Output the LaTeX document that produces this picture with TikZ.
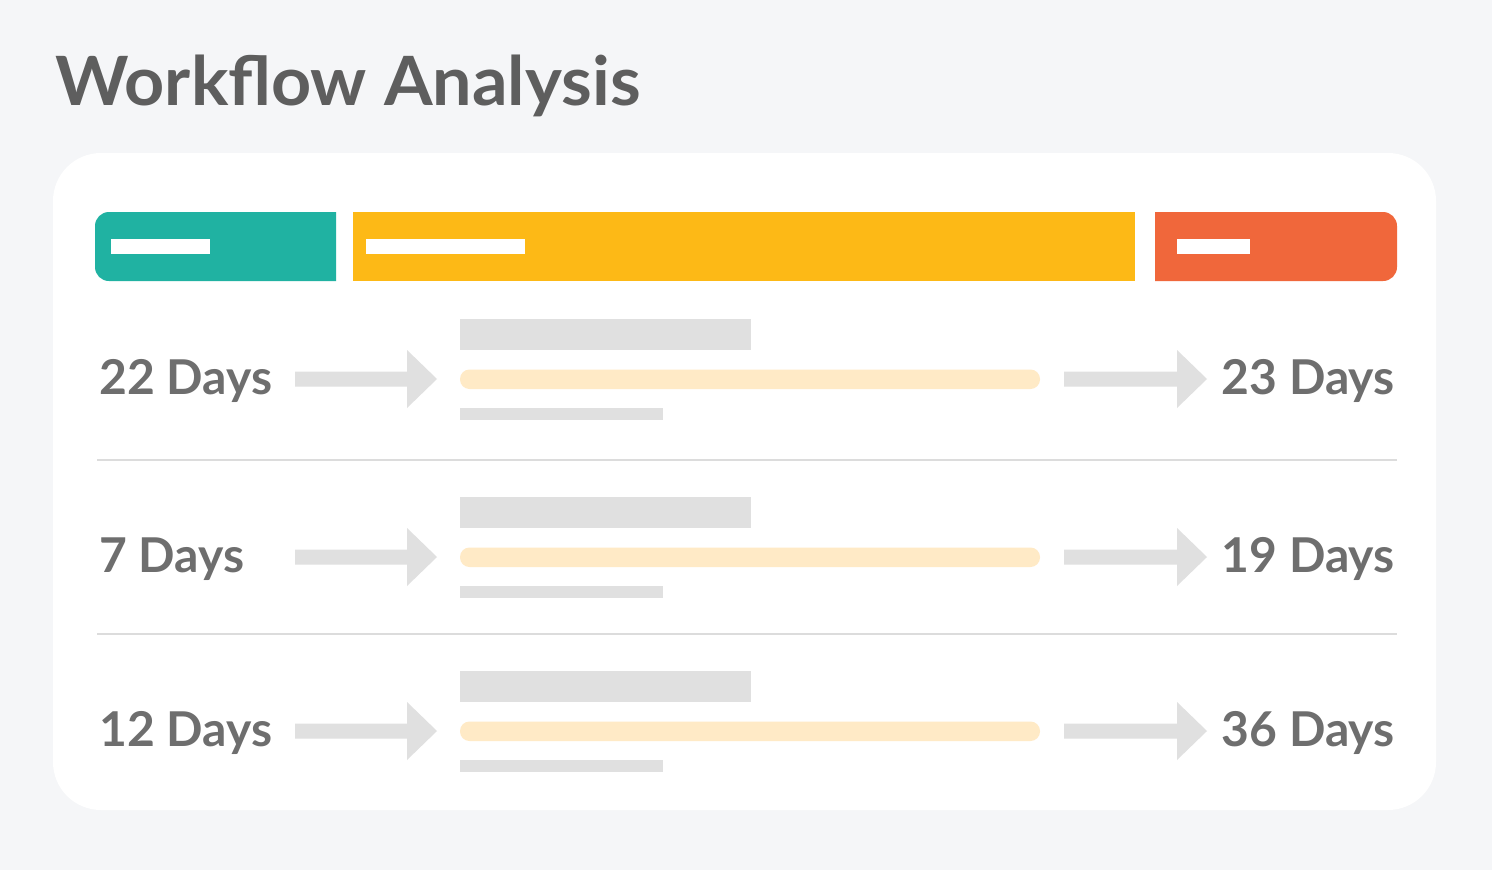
\documentclass[tikz,border=0pt]{standalone}
\usepackage{fontspec}
\setmainfont{Lato}
\newfontfamily\titlefont{Lato}[FakeStretch=1.03]
\definecolor{bgc}{HTML}{F5F6F8}
\definecolor{teal}{HTML}{20B2A2}
\definecolor{yel}{HTML}{FDB916}
\definecolor{ora}{HTML}{F0673B}
\definecolor{lyel}{HTML}{FFEAC6}
\definecolor{lgray}{HTML}{E0E0E0}
\definecolor{sep}{HTML}{DCDCDC}
\definecolor{titlec}{HTML}{5E5E5E}
\definecolor{txtc}{HTML}{6E6E6E}
\tikzset{
  daytext/.style={font=\fontsize{48}{52}\selectfont\bfseries, text=txtc, inner sep=0pt},
  graybar/.style={fill=lgray, draw=none},
  arrowshape/.style={fill=lgray, draw=none},
}
\begin{document}
\begin{tikzpicture}[x=1pt,y=-1pt]
\fill[bgc] (0,0) rectangle (1492,870);
\useasboundingbox (0,0) rectangle (1492,870);
\node[anchor=base west, inner sep=0pt, text=titlec, font=\titlefont\fontsize{68}{72}\selectfont\bfseries] (title) at (55,105) {Workflow Analysis};
% card
\fill[white, rounded corners=48pt] (53,153) rectangle (1436,810);
% header
\fill[teal] (336,212) [rounded corners=14pt] -- (95,212) -- (95,281) [sharp corners] -- (336,281) -- cycle;
\fill[white] (111,239) rectangle (210,254);
\fill[yel] (353,212) rectangle (1135,281);
\fill[white] (366,239) rectangle (525,254);
\fill[ora] (1155,212) [rounded corners=14pt] -- (1397,212) -- (1397,281) [sharp corners] -- (1155,281) -- cycle;
\fill[white] (1177,239) rectangle (1250,254);
% separators
\draw[sep, line width=2.5pt] (97,460) -- (1397,460);
\draw[sep, line width=2.5pt] (97,634) -- (1397,634);
% rows
\foreach \cy/\l/\r/\n in {379/22 Days/23 Days/a, 557/7 Days/19 Days/b, 731/12 Days/36 Days/c}{
  \node[daytext, anchor=base west] (left\n) at (99,\cy+15) {\l};
  \node[daytext, anchor=base east] (right\n) at (1395,\cy+15) {\r};
  \fill[arrowshape] (295,\cy-7.5) -- (407,\cy-7.5) -- (407,\cy-29) -- (437,\cy) -- (407,\cy+29) -- (407,\cy+7.5) -- (295,\cy+7.5) -- cycle;
  \fill[arrowshape] (1064,\cy-7.5) -- (1177,\cy-7.5) -- (1177,\cy-29) -- (1207,\cy) -- (1177,\cy+29) -- (1177,\cy+7.5) -- (1064,\cy+7.5) -- cycle;
  \fill[graybar] (460,\cy-60) rectangle (751,\cy-29);
  \fill[lyel, rounded corners=9.5pt] (460,\cy-9.5) rectangle (1040,\cy+10);
  \fill[graybar] (460,\cy+29) rectangle (663,\cy+41);
}
\end{tikzpicture}
\end{document}
